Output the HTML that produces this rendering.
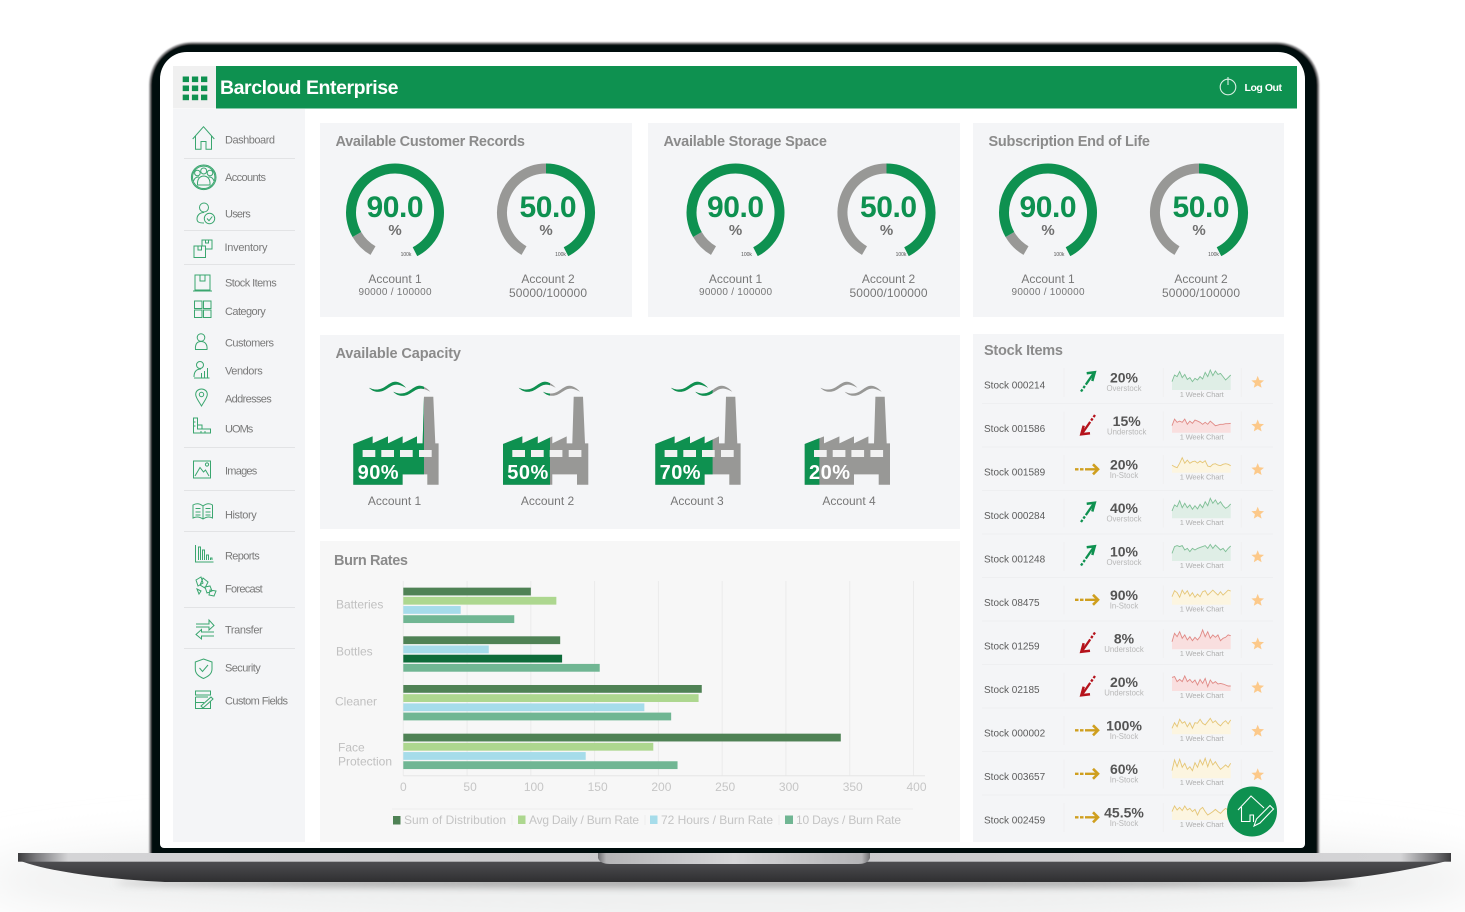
<!DOCTYPE html>
<html lang="en">
<head>
<meta charset="utf-8">
<title>Barcloud Enterprise dashboard on laptop</title>
<style>
html,body{margin:0;padding:0;background:#fff;width:1465px;height:912px;overflow:hidden}
svg{display:block}
text{font-family:"Liberation Sans",sans-serif}
.nav{font-size:11px;fill:#7a7a7a}
.ttl{font-size:14.5px;font-weight:bold;fill:#8b8b8b}
.ic{fill:none;stroke:#3aa66f;stroke-width:1}
.lg{font-size:12px;fill:#c4c4c4}
</style>
</head>
<body>
<svg id="scene" xmlns="http://www.w3.org/2000/svg" width="1465" height="912" viewBox="0 0 1465 912">
<defs>
<filter id="blur30" x="-20%" y="-100%" width="140%" height="300%"><feGaussianBlur stdDeviation="22"/></filter>
<filter id="blur4" x="-10%" y="-100%" width="120%" height="300%"><feGaussianBlur stdDeviation="4"/></filter>
<filter id="blur1" x="-5%" y="-5%" width="110%" height="110%"><feGaussianBlur stdDeviation="0.8"/></filter>
<linearGradient id="strip" x1="0" x2="1" y1="0" y2="0">
<stop offset="0" stop-color="#3c3c3e"/><stop offset="0.012" stop-color="#77777a"/><stop offset="0.035" stop-color="#d4d4d6"/><stop offset="0.5" stop-color="#c9c9cb"/><stop offset="0.965" stop-color="#d4d4d6"/><stop offset="0.988" stop-color="#77777a"/><stop offset="1" stop-color="#3c3c3e"/>
</linearGradient>
<linearGradient id="baseDark" x1="0" x2="0" y1="0" y2="1">
<stop offset="0" stop-color="#58585b"/><stop offset="0.45" stop-color="#47474a"/><stop offset="1" stop-color="#2f2f31"/>
</linearGradient>
<linearGradient id="notch" x1="0" x2="1" y1="0" y2="0">
<stop offset="0" stop-color="#6f6f72"/><stop offset="0.03" stop-color="#b5b5b7"/><stop offset="0.5" stop-color="#d6d6d8"/><stop offset="0.97" stop-color="#b5b5b7"/><stop offset="1" stop-color="#6f6f72"/>
</linearGradient>
</defs>

<rect width="1465" height="912" fill="#ffffff"/>
<ellipse cx="735" cy="880" rx="760" ry="52" fill="#eeefef" filter="url(#blur30)"/>
<ellipse cx="735" cy="883" rx="620" ry="4" fill="#9a9a9a" filter="url(#blur4)"/>

<!-- laptop -->
<path d="M150,858 V85 A42,42 0 0 1 192,43 H1276.5 A42,42 0 0 1 1318.5,85 V858 Z" fill="#060709" stroke="#8d8d8f" stroke-width="1.6" filter="url(#blur1)"/>
<path d="M160,844 V79 A27,27 0 0 1 187,52 H1278 A27,27 0 0 1 1305,79 V844 A4,4 0 0 1 1301,848 H164 A4,4 0 0 1 160,844 Z" fill="#ffffff"/>
<path d="M18,853 H1451 V860 C1400,873 1340,881 1300,882 H165 C120,880 50,873 18,860 Z" fill="url(#baseDark)"/>
<rect x="18" y="853" width="1433" height="8.7" fill="url(#strip)"/>
<path d="M598,853 H870 V858 Q868,864 858,864 H610 Q600,864 598,858 Z" fill="url(#notch)"/>

<!-- sidebar -->
<rect x="173" y="109" width="132" height="733" fill="#f4f5f7"/>

<!-- header -->
<rect x="173" y="66" width="43" height="42.5" fill="#f0f0f0"/>
<rect x="216" y="66" width="1081" height="42.5" fill="#0e9150"/>
<g fill="#0e9150">
<rect x="182.7" y="76.5" width="6.3" height="5.6"/><rect x="191.9" y="76.5" width="6.3" height="5.6"/><rect x="201" y="76.5" width="6.3" height="5.6"/>
<rect x="182.7" y="85.5" width="6.3" height="5.6"/><rect x="191.9" y="85.5" width="6.3" height="5.6"/><rect x="201" y="85.5" width="6.3" height="5.6"/>
<rect x="182.7" y="94.6" width="6.3" height="5.6"/><rect x="191.9" y="94.6" width="6.3" height="5.6"/><rect x="201" y="94.6" width="6.3" height="5.6"/>
</g>
<text x="220" y="94" font-size="19.5" font-weight="bold" fill="#ffffff" textLength="178.5">Barcloud Enterprise</text>
<g>
<circle cx="1228" cy="87" r="7.8" fill="none" stroke="#d9efe3" stroke-width="1.1"/>
<line x1="1228" y1="77" x2="1228" y2="85" stroke="#d9efe3" stroke-width="1.1"/>
<text x="1244.5" y="91" font-size="10.5" font-weight="bold" fill="#ffffff" textLength="37.5">Log Out</text>
</g>

<!-- nav dividers -->
<g stroke="#e2e3e5" stroke-width="1">
<line x1="184" x2="295" y1="158.5" y2="158.5"/><line x1="184" x2="295" y1="230.5" y2="230.5"/><line x1="184" x2="295" y1="264.5" y2="264.5"/><line x1="184" x2="295" y1="447.5" y2="447.5"/><line x1="184" x2="295" y1="490.5" y2="490.5"/><line x1="184" x2="295" y1="531.5" y2="531.5"/><line x1="184" x2="295" y1="607.5" y2="607.5"/><line x1="184" x2="295" y1="648.5" y2="648.5"/>
</g>

<!-- nav items -->
<g><path class="ic" d="M192.7,139 L203.5,126.7 L214.3,139 M195.5,136 V149.3 H201 V141.5 H206 V149.3 H211.5 V136"/><text class="nav" x="225" y="143.5" textLength="50">Dashboard</text></g>
<g><g class="ic"><circle cx="203.7" cy="177.3" r="12.3"/><circle cx="203.7" cy="177.3" r="11.2"/><circle cx="197.4" cy="173" r="2.8"/><circle cx="203.7" cy="171" r="3"/><circle cx="210" cy="173" r="2.8"/><path d="M193.5,181 Q195,176.5 199,177 M214,181 Q212.5,176.5 208.5,177 M197.5,185 Q197,176.5 203.7,176 Q210.5,176.5 210,185 Z"/></g><text class="nav" x="225" y="181" textLength="41">Accounts</text></g>
<g><g class="ic"><circle cx="204" cy="207.5" r="4.5"/><path d="M204,212.5 C199,212.5 197,216 197,219 C197,222 199,223 204,223"/><circle cx="209.5" cy="218.5" r="5.2"/><path d="M207,218.5 L209,220.7 L212.3,216.5"/></g><text class="nav" x="225" y="217.5" textLength="25.7">Users</text></g>
<g><g class="ic"><rect x="194" y="246" width="11.5" height="11.5"/><path d="M198,246 V250 H201.5 V246 M202,246 V240 H212 V249 H205.5 M205.5,240 V243 H208.5 V240"/></g><text class="nav" x="224.5" y="251" textLength="43">Inventory</text></g>
<g><g class="ic"><rect x="195" y="275" width="15" height="15"/><path d="M200,275 V281 H205 V275 M193,291 H212"/></g><text class="nav" x="225" y="286.5" textLength="51.7">Stock Items</text></g>
<g><g class="ic"><rect x="194.5" y="301" width="7.5" height="7.5"/><rect x="203.5" y="301" width="7.5" height="7.5"/><rect x="194.5" y="310" width="7.5" height="7.5"/><rect x="203.5" y="310" width="7.5" height="7.5"/></g><text class="nav" x="225" y="315" textLength="40.7">Category</text></g>
<g><g class="ic"><circle cx="201" cy="337.5" r="3.8"/><path d="M201,341.5 C196.5,341.5 195,345 195.5,349.5 H207 C207.5,345 205.5,341.5 201,341.5 Z"/></g><text class="nav" x="225" y="346.5" textLength="49">Customers</text></g>
<g><g class="ic"><circle cx="200" cy="365" r="3.5"/><path d="M194,377 C194,371 197,369 201,369 M194,378 H209.5 M201.5,378 V373 M204.5,378 V371 M207.5,378 V368"/></g><text class="nav" x="225" y="374.5" textLength="37.7">Vendors</text></g>
<g><g class="ic"><path d="M201.5,406 C198,400 195.7,397.5 195.7,394.5 C195.7,391 198.5,389 201.5,389 C204.5,389 207.3,391 207.3,394.5 C207.3,397.5 205,400 201.5,406 Z"/><circle cx="201.5" cy="394.5" r="2.2"/></g><text class="nav" x="225" y="402.5" textLength="46.7">Addresses</text></g>
<g><path class="ic" d="M193.5,418 H197.5 V429 H210.5 V433 H193.5 Z M198,425 H202 V429 M193.5,422 H195.5 M193.5,426 H195.5 M201,431 V433 M205,431 V433"/><text class="nav" x="225" y="432.5" textLength="28.3">UOMs</text></g>
<g><g class="ic"><rect x="193.5" y="461" width="17" height="17"/><path d="M195,476 L200,467.5 L203.5,472 L205.5,470 L209,476"/><circle cx="207" cy="464.5" r="1.6"/></g><text class="nav" x="225" y="474.5" textLength="32.3">Images</text></g>
<g><path class="ic" d="M193,505 Q198,502 203,506 Q208,502 212.5,505 V518 Q208,515.5 203,519 Q198,515.5 193,518 Z M203,506 V519 M195.5,508.5 H200.5 M205.5,508.5 H210.5 M195.5,512 H200.5 M205.5,512 H210.5 M195.5,515 H200.5 M205.5,515 H210.5"/><text class="nav" x="225" y="518.5" textLength="31.7">History</text></g>
<g><path class="ic" d="M195.5,545 V562 H213.5 M198.5,560 V547 H200.5 V560 M202.5,560 V550 H204.5 V560 M206.5,560 V555 H208.5 V560 M210.5,560 V558 H212 V560"/><text class="nav" x="225" y="559.5" textLength="34.7">Reports</text></g>
<g><path class="ic" d="M196,580 L201,577 L203,583 L198,586 Z M203,578 L208,582 L205,588 L200,585 Z M205,587 L210,586 L212,591 L207,593 Z M210,590 L216,591 L214,596 L209,595 Z M197,589 L201,591 L199,594 Z"/><text class="nav" x="225" y="592.5" textLength="37.7">Forecast</text></g>
<g><path class="ic" d="M196,624 H209 V620 L214,625.5 L209,630 V627 H196 M214,632 H201.5 V629.5 L196,634.5 L201.5,639 V636 H214"/><text class="nav" x="225" y="633.5" textLength="37.7">Transfer</text></g>
<g><path class="ic" d="M203.5,659 L212,662 V669 C212,674 208,676.5 203.5,678.5 C199,676.5 195.3,674 195.3,669 V662 Z M199.5,668 L202.5,671.5 L208,665"/><text class="nav" x="225" y="671.5" textLength="35.7">Security</text></g>
<g><path class="ic" d="M195.5,691 H210.5 V695 H195.5 Z M195.5,697 H208 M195.5,697 V708.5 H210.5 V701 M195.5,702.5 H204 M201,706 L211,697 L213,699 L203,708 Z"/><text class="nav" x="225" y="704.5" textLength="63">Custom Fields</text></g>

<!-- panels -->
<rect x="320" y="123" width="312" height="194" fill="#f4f5f7"/>
<rect x="648" y="123" width="312" height="194" fill="#f4f5f7"/>
<rect x="973" y="123" width="311" height="194" fill="#f4f5f7"/>
<rect x="320" y="335" width="640" height="194" fill="#f4f5f7"/>
<rect x="320" y="541" width="640" height="301" fill="#f7f7f7"/>
<rect x="973" y="334" width="311" height="508" fill="#f4f5f7"/>
<text class="ttl" x="335.5" y="146" textLength="189.5">Available Customer Records</text>
<text class="ttl" x="663.5" y="146" textLength="163.5">Available Storage Space</text>
<text class="ttl" x="988.5" y="146" textLength="161.5">Subscription End of Life</text>
<text class="ttl" x="335.5" y="358" textLength="125.5">Available Capacity</text>
<text class="ttl" x="334" y="565" textLength="74">Burn Rates</text>
<text class="ttl" x="984" y="355" textLength="79">Stock Items</text>

<g id="gauges"></g>
<g id="factories"></g>

<!-- burn chart -->
<g id="burnChart"></g>
<line x1="392" x2="913" y1="809" y2="809" stroke="#eeeeee"/>
<g>
<g><rect x="393" y="816" width="7.5" height="8.5" fill="#4f8255"/><text class="lg" x="404" y="824" textLength="102">Sum of Distribution</text></g>
<line x1="512" x2="512" y1="815" y2="825" stroke="#eeeeee"/>
<g><rect x="518" y="815.5" width="7.5" height="8.5" fill="#add78f"/><text class="lg" x="529" y="824" textLength="110">Avg Daily / Burn Rate</text></g>
<line x1="645" x2="645" y1="815" y2="825" stroke="#eeeeee"/>
<g><rect x="650" y="815.5" width="7.5" height="8.5" fill="#a6dcea"/><text class="lg" x="661" y="824" textLength="112">72 Hours / Burn Rate</text></g>
<line x1="779" x2="779" y1="815" y2="825" stroke="#eeeeee"/>
<g><rect x="785" y="815.5" width="8" height="8.5" fill="#70b693"/><text class="lg" x="796" y="824" textLength="105">10 Days / Burn Rate</text></g>
</g>

<g id="stockRows"></g>

<!-- floating action button -->
<g>
<circle cx="1252" cy="811.5" r="25" fill="#0e9150"/>
<path d="M1238,810 L1251,796 L1264,808 M1241.5,807 V821.5 H1250 V815 H1253.5 V822 M1254,826 L1256.5,819 L1270,805.5 L1273.5,809 L1260,823 Z" fill="none" stroke="#ffffff" stroke-width="1.1"/>
</g>

<script>
/* ---------- gauges ---------- */
const gaugeTitles = ["Account 1", "Account 2", "Account 1", "Account 2", "Account 1", "Account 2"];
const gaugeValues = [90, 50, 90, 50, 90, 50];
const gaugeCaptions = ["90000 / 100000", "50000/100000", "90000 / 100000", "50000/100000", "90000 / 100000", "50000/100000"];

/* ---------- capacity ---------- */
const capacityAccounts = ["Account 1", "Account 2", "Account 3", "Account 4"];
const capacityValues = [90, 50, 70, 20];

/* ---------- burn rates ---------- */
const burnCategories = ["Batteries", "Bottles", "Cleaner", "Face Protection"];
const sumOfDistribution = [100, 123, 234, 343];
const avgDailyBurn = [120, 67, 231.5, 196];
const hours72Burn = [45, 124.5, 189, 143];
const days10Burn = [87, 154, 210, 215];
const burnTicks = [0, 50, 100, 150, 200, 250, 300, 350, 400];

/* ---------- stock rows ---------- */
const stockNames = ["Stock 000214", "Stock 001586", "Stock 001589", "Stock 000284", "Stock 001248", "Stock 08475", "Stock 01259", "Stock 02185", "Stock 000002", "Stock 003657", "Stock 002459"];
const stockPercents = ["20%", "15%", "20%", "40%", "10%", "90%", "8%", "20%", "100%", "60%", "45.5%"];
const stockStatuses = ["Overstock", "Understock", "In-Stock", "Overstock", "Overstock", "In-Stock", "Understock", "Understock", "In-Stock", "In-Stock", "In-Stock"];
const spark000214 = [42,75,67,92,62,78,53,62,42,58,50,67,55,88,67,100,72,95,78,83,67,50,62,75];
const spark001586 = [35,68,52,58,52,68,42,58,47,63,58,52,42,52,42,58,47,35,38,42,42,45,45,47];
const spark001589 = [38,30,25,47,75,47,63,47,55,58,48,58,50,60,33,30,42,45,38,35,42,45,42,35];
const spark000284 = [37,67,58,88,53,75,53,67,45,63,47,70,53,83,63,100,75,92,70,83,63,50,58,72];
const spark001248 = [38,72,77,72,77,55,63,47,63,55,63,68,72,77,63,83,63,80,68,55,63,47,63,75];
const spark08475 = [40,70,60,37,73,53,70,43,60,37,53,40,65,70,48,60,73,60,48,65,48,60,73,68];
const spark01259 = [38,80,63,88,55,72,47,63,43,60,47,63,97,63,88,55,72,60,72,43,55,60,72,68];
const spark02185 = [68,72,47,58,47,75,47,58,42,55,30,58,38,63,22,55,38,47,35,38,35,30,25,25];
const spark000002 = [30,58,38,75,55,63,38,58,30,58,55,75,55,47,63,80,58,68,52,42,58,68,52,72];
const spark003657 = [38,92,58,95,55,75,45,58,38,78,55,92,67,100,58,95,67,83,62,45,55,67,55,75];
const spark002459 = [42,70,50,63,47,70,50,58,42,53,25,53,63,42,25,33,42,53,42,33,47,58,50,42];
const sparkSeries = [spark000214, spark001586, spark001589, spark000284, spark001248, spark08475, spark01259, spark02185, spark000002, spark003657, spark002459];

const NS = "http://www.w3.org/2000/svg";
function mk(parent, tag, attrs) {
  const e = document.createElementNS(NS, tag);
  for (const k in attrs) e.setAttribute(k, attrs[k]);
  parent.appendChild(e);
  return e;
}
function txt(parent, str, attrs) {
  const e = mk(parent, "text", attrs);
  e.textContent = str;
  return e;
}

/* gauges */
const GREEN = "#0e9150", GREY = "#989896";
function polar(cx, cy, r, deg) {
  const a = deg * Math.PI / 180;
  return [cx + r * Math.sin(a), cy - r * Math.cos(a)];
}
function arcPath(cx, cy, r, a0, a1) {
  const p0 = polar(cx, cy, r, a0), p1 = polar(cx, cy, r, a1);
  return "M" + p0[0] + "," + p0[1] + " A" + r + "," + r + " 0 " + ((a1 - a0) > 180 ? 1 : 0) + " 1 " + p1[0] + "," + p1[1];
}
function gaugeAngle(v) { return 150 - 300 * v / 100; }
function drawGauges() {
  const root = document.getElementById("gauges");
  const centres = [395, 546, 735.5, 886.5, 1048, 1199];
  gaugeValues.forEach(function (v, i) {
    const cx = centres[i], cy = 212.5, split = gaugeAngle(v);
    const odd = i % 2 === 1;
    const g = mk(root, "g", {});
    
    
    const track = mk(g, "path", { d: arcPath(cx, cy, 44, -150, split), fill: "none", stroke: GREY, "stroke-width": 10 });
    
    
    const fill = mk(g, "path", { d: arcPath(cx, cy, 44, split, 153), fill: "none", stroke: GREEN, "stroke-width": 10 });
    
    
    const val = txt(g, v.toFixed(1), { x: cx + (odd ? 2 : 0), y: 217, "text-anchor": "middle", "font-size": 30, "font-weight": "bold", fill: GREEN, textLength: 57 });
    
    
    const pct = txt(g, "%", { x: cx, y: 235, "text-anchor": "middle", "font-size": 15, "font-weight": "bold", fill: "#707070" });
    
    
    const max = txt(g, "100k", { x: cx + (odd ? 14.5 : 11), y: 256, "text-anchor": "middle", "font-size": 5, fill: "#555555" });
    
    
    const name = txt(g, gaugeTitles[i], { x: cx + (odd ? 2 : 0), y: 283, "text-anchor": "middle", "font-size": 12, fill: "#777777" });
    
    
    const small = gaugeCaptions[i].indexOf(" / ") >= 0;
    const cap = txt(g, gaugeCaptions[i], { x: cx + (odd ? 2 : 0), y: small ? 295 : 297, "text-anchor": "middle", "font-size": small ? 10 : 12, fill: "#777777", textLength: small ? 73 : 78 });
    
    
  });
}

/* factories */
function capacityScale(p) {
  const dom = [0, 20, 50, 70, 90, 100], rng = [0, 14.7, 47, 57.3, 70.7, 85.3];
  for (let i = 1; i < dom.length; i++) {
    if (p <= dom[i]) return rng[i - 1] + (p - dom[i - 1]) / (dom[i] - dom[i - 1]) * (rng[i] - rng[i - 1]);
  }
  return rng[rng.length - 1];
}
function drawFactories() {
  const root = document.getElementById("factories");
  const body = "M0,47.3 L19.3,39.7 V46.7 L34.7,39.7 V46.7 L49.3,39.7 V46.7 L63.7,39.7 V46.7 H69.3 L70.7,0 H80 L82,46.7 H85.3 V88 H74 V77.7 H49.3 V88 H0 Z";
  const smoke = "M15.7,-9 C21,-6.5 26,-6.5 31,-9.5 C35,-12 38,-15 42,-15 C46,-15 50,-12 52.7,-9 C49,-11 45,-12.5 42,-12 C38,-11.5 35,-8.5 31,-6.5 C26,-3.8 20,-4.5 15.7,-9 Z";
  const smoke2 = "M40,-5 C45.3,-2.5 50.3,-2.5 55.3,-5.5 C59.3,-8 62.3,-11 66.3,-11 C70.3,-11 74.3,-8 77,-5 C73.3,-7 69.3,-8.5 66.3,-8 C62.3,-7.5 59.3,-4.5 55.3,-2.5 C50.3,0.2 44.3,-0.5 40,-5 Z";
  const origins = [353.3, 503, 655.3, 804.7], labelX = [394.5, 547.5, 697, 849], windows = [9.3, 28, 46.7, 65.7];
  capacityValues.forEach(function (v, i) {
    const g = mk(root, "g", { transform: "translate(" + origins[i] + ",396.7)" });
    
    
    const cid = "fclip" + i;
    const clip = mk(g, "clipPath", { id: cid });
    mk(clip, "rect", { x: -5, y: -25, width: capacityScale(v) + 5, height: 120 });
    [body, smoke, smoke2].forEach(function (d, k) {
      const base = mk(g, "path", { d: d, fill: GREY });
      
      
      const over = mk(g, "path", { d: d, fill: GREEN, "clip-path": "url(#" + cid + ")" });
      
      
    });
    windows.forEach(function (x) {
      const w = mk(g, "rect", { x: x, y: 53.3, width: 12.7, height: 7, fill: "#f1f1f1" });
      
      
    });
    const pct = txt(g, v + "%", { x: 4.3, y: 82.3, "font-size": 20, "font-weight": "bold", fill: "#ffffff", textLength: 41 });
    
    
    const lab = txt(root, capacityAccounts[i], { x: labelX[i], y: 505, "text-anchor": "middle", "font-size": 12, fill: "#777777" });
    
    
  });
}

/* burn chart */
const X0 = 403.3, PX_PER_UNIT = 1.2755, PLOT_TOP = 581, PLOT_BOTTOM = 775.7;
function xScale(v) { return X0 + v * PX_PER_UNIT; }
function bandCentre(i) { return PLOT_TOP + (PLOT_BOTTOM - PLOT_TOP) * (i + 0.5) / burnCategories.length; }
function drawBurn() {
  const root = document.getElementById("burnChart");
  burnTicks.forEach(function (t) {
    const grid = mk(root, "line", { x1: xScale(t), x2: xScale(t), y1: PLOT_TOP, y2: PLOT_BOTTOM, stroke: "#ebebeb" });
    
    
    const lab = txt(root, String(t), { x: xScale(t) + (t ? 3 : 0), y: 791, "text-anchor": "middle", "font-size": 12, fill: "#c6c6c6" });
    
    
  });
  const axis = mk(root, "line", { x1: X0, x2: 925, y1: PLOT_BOTTOM, y2: PLOT_BOTTOM, stroke: "#e6e6e6" });
  
  

  const series = [sumOfDistribution, avgDailyBurn, hours72Burn, days10Burn];
  const seriesNames = ['sum', 'avg-daily', '72-hours', '10-days'];
  const colours = ["#4f8255", "#add78f", "#a6dcea", "#70b693"];
  const h = 7.8, pitch = 9.2;
  burnCategories.forEach(function (cat, c) {
    const top = bandCentre(c) - (3 * pitch + h) / 2;
    series.forEach(function (vals, s) {
      let col = colours[s];
      if (c === 1 && s === 1) col = "#a6dcea";
      if (c === 1 && s === 2) col = "#0e6b3a";
      const bar = mk(root, "rect", { x: X0, y: top + s * pitch, width: xScale(vals[c]) - X0, height: h, fill: col });
      
      
    });
    const words = cat === "Face Protection" ? ["Face", "Protection"] : [cat];
    words.forEach(function (w, k) {
      const y = words.length > 1 ? bandCentre(c) + k * 14 : bandCentre(c) + 3 - (c === 1 ? 1.5 : 0);
      const lab = txt(root, w, { x: words.length > 1 ? 338 : (c === 2 ? 335 : 336), y: y, "font-size": 12, fill: "#c0c0c0" });
      
      
    });
  });
}

/* stock rows */
function starPoints(cx, cy, r) {
  const pts = [];
  for (let i = 0; i < 10; i++) {
    const p = polar(cx, cy, i % 2 ? r * 0.45 : r, i * 36);
    pts.push(p[0].toFixed(1) + "," + p[1].toFixed(1));
  }
  return pts.join(" ");
}
function sparkX(i, n) { return 1172 + i * 58.7 / (n - 1); }
function drawArrow(g, status, y) {
  const colour = status === "Overstock" ? "#0e9150" : status === "Understock" ? "#b5121b" : "#cf9f1f";
  const wrap = mk(g, "g", { transform: "translate(0," + y + ")", fill: "none", stroke: colour });
  
  
  if (status === "Overstock") {
    mk(wrap, "path", { d: "M1081,10 L1093.5,-8", "stroke-width": 2.3, "stroke-dasharray": "2.6 1.6 2.6 1.6 30" });
    mk(wrap, "path", { d: "M1086.7,-8.2 L1094.8,-9.3 L1092.3,-0.5", "stroke-width": 2.5 });
  } else if (status === "Understock") {
    mk(wrap, "path", { d: "M1095,-10 L1082.5,8", "stroke-width": 2.3, "stroke-dasharray": "2.6 1.6 2.6 1.6 30" });
    mk(wrap, "path", { d: "M1083.7,0.7 L1081.3,9.3 L1090,8.3", "stroke-width": 2.5 });
  } else {
    mk(wrap, "path", { d: "M1075,0.8 H1097", "stroke-width": 2.4, "stroke-dasharray": "3.5 1.5 3.5 1.5 40" });
    mk(wrap, "path", { d: "M1093,-4.2 L1098,0.8 L1093,5.8", "stroke-width": 2.6 });
  }
}
function drawStock() {
  const root = document.getElementById("stockRows");
  const palette = {
    "Overstock": { line: "#7fbf96", fill: "#dfeee6" },
    "Understock": { line: "#e08a86", fill: "#f9dfdf" },
    "In-Stock": { line: "#e5c676", fill: "#fcf5e0" }
  };
  const bottomNudge = [1, 0.6, -2.5, 0, -0.4, 0.2, 1.7, 0.3, 0.5, 1.4, 0];
  stockNames.forEach(function (name, i) {
    const g = mk(root, "g", {});
    
    
    const off = 43.5 * i;
    if (i < stockNames.length - 1) {
      const rule = mk(g, "line", { x1: 982, x2: 1273, y1: 403.5 + off, y2: 403.5 + off, stroke: "#eeeff1" });
      
      
    }
    [1064, 1163.3, 1241.3].forEach(function (x) {
      const sep = mk(g, "line", { x1: x, x2: x, y1: 368 + off, y2: 397 + off, stroke: "#f0f0f1" });
      
      
    });
    const label = txt(g, name, { x: 984, y: 388.5 + off, "font-size": 10, fill: "#5c5c5c" });
    
    
    const st = stockStatuses[i];
    drawArrow(g, st, 381.5 + off);
    const cx = i === 1 ? 1126.7 : 1124;
    const pct = txt(g, stockPercents[i], { x: cx, y: 382.5 + off, "text-anchor": "middle", "font-size": 14, "font-weight": "bold", fill: "#555555" });
    
    
    const status = txt(g, st, { x: cx, y: 391 + off, "text-anchor": "middle", "font-size": 7.8, fill: "#b8b8b8" });
    
    

    const bottom = 389 + 43.1 * i + bottomNudge[i];
    const vals = sparkSeries[i], n = vals.length;
    const sy = function (v) { return bottom - v * 0.2; };
    let d = "";
    vals.forEach(function (v, k) { d += (k ? " L" : "M") + sparkX(k, n).toFixed(2) + "," + sy(v).toFixed(2); });
    const area = mk(g, "path", { d: d + " L" + sparkX(n - 1, n) + "," + bottom + " L" + sparkX(0, n) + "," + bottom + " Z", fill: palette[st].fill });
    
    
    const line = mk(g, "path", { d: d, fill: "none", stroke: palette[st].line, "stroke-width": 0.9 });
    
    
    const cap = txt(g, "1 Week Chart", { x: 1201.7, y: bottom + 6.8, "text-anchor": "middle", "font-size": 7.5, fill: "#b0b0b0", textLength: 44 });
    
    
    const star = mk(g, "polygon", { points: starPoints(1257.7, 382.5 + 43.6 * i, 6.6), fill: "#fcc98a" });
    
    
  });
}

drawGauges();
drawFactories();
drawBurn();
drawStock();
</script>
</svg>
</body>
</html>
